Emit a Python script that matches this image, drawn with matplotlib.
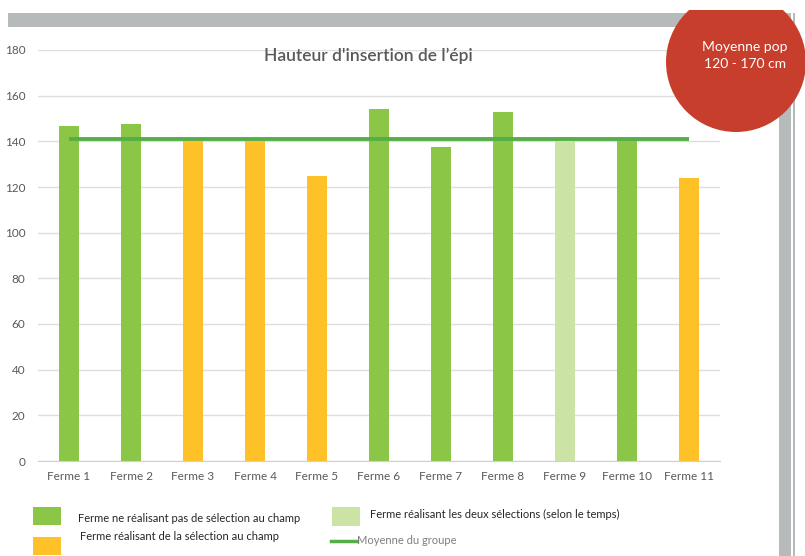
import matplotlib.pyplot as plt
from matplotlib.patches import Rectangle, Circle
from matplotlib.lines import Line2D

# Data
fermes = ['Ferme 1', 'Ferme 2', 'Ferme 3', 'Ferme 4', 'Ferme 5', 'Ferme 6',
          'Ferme 7', 'Ferme 8', 'Ferme 9', 'Ferme 10', 'Ferme 11']
hauteurs = [146.5, 147.5, 141, 141, 125, 154, 137.5, 153, 140, 141, 124]
# 0 = pas de sélection, 1 = sélection au champ, 2 = les deux
groupes = [0, 0, 1, 1, 1, 0, 0, 0, 2, 0, 1]
moyenne_groupe = 141
y_ticks = [0, 20, 40, 60, 80, 100, 120, 140, 160, 180]

couleurs = {0: '#8cc646', 1: '#fec128', 2: '#cbe3a4'}
legende = {0: 'Ferme ne réalisant pas de sélection au champ',
           1: 'Ferme réalisant de la sélection au champ',
           2: 'Ferme réalisant les deux sélections (selon le temps)'}
vert_ligne = '#55ae47'
gris_txt = '#595959'
gris_cadre = '#b7babb'

W, H = 805, 556
fig = plt.figure(figsize=(W / 100, H / 100), dpi=100)

# Main chart
ax = fig.add_axes([38 / W, 1 - 461 / H, (720 - 38) / W, (461 - 50) / H])
x = range(len(fermes))
ax.bar(x, hauteurs, width=0.32, color=[couleurs[g] for g in groupes], zorder=2)
ax.hlines(moyenne_groupe, 0, len(fermes) - 1, color=vert_ligne, lw=2.8, zorder=3)

ax.set_xlim(-0.5, len(fermes) - 0.5)
ax.set_ylim(0, 180)
ax.set_yticks(y_ticks)
ax.set_xticks(list(x))
ax.set_xticklabels(fermes)
ax.yaxis.grid(True, color='#dedede', lw=1)
ax.set_axisbelow(True)
for s in ['top', 'right', 'left']:
    ax.spines[s].set_visible(False)
ax.spines['bottom'].set_color('#d0d0d0')
ax.tick_params(length=0, labelsize=8.5, labelcolor=gris_txt)
ax.tick_params(axis='y', pad=9)
ax.tick_params(axis='x', pad=7)
for lab in ax.get_xticklabels() + ax.get_yticklabels():
    lab.set_family('Lato')

ax.text(0.485, 0.985, "Hauteur d'insertion de l’épi", transform=ax.transAxes,
        ha='center', va='center', fontsize=12.5, color=gris_txt,
        family='Lato', fontweight='semibold')

# Overlay in pixel coordinates for the frame, the circle and the legend
ov = fig.add_axes([0, 0, 1, 1], zorder=5)
ov.set_xlim(0, W)
ov.set_ylim(H, 0)
ov.axis('off')
ov.patch.set_alpha(0)

ov.add_patch(Rectangle((8, 13), 780, 14, color=gris_cadre, lw=0))
ov.add_patch(Rectangle((779, 13), 12, H, color=gris_cadre, lw=0))
ov.add_patch(Rectangle((793, 13), 2, H, color=gris_cadre, lw=0))

cercle = Circle((736, 62), 70, color='#c83e2d', lw=0)
ov.add_patch(cercle)
cercle.set_clip_path(Rectangle((0, 10), W, H, transform=ov.transData))
ov.text(745, 47, 'Moyenne pop', color='white', fontsize=10, ha='center',
        va='center', family='Lato')
ov.text(745, 64, '120 - 170 cm', color='white', fontsize=10, ha='center',
        va='center', family='Lato')

# Legend
ov.add_patch(Rectangle((33, 507), 28, 18, color=couleurs[0], lw=0))
ov.text(78, 518, legende[0], fontsize=8, va='center', color='#262626', family='Lato')
ov.add_patch(Rectangle((33, 537), 28, 18, color=couleurs[1], lw=0))
ov.text(80, 537, legende[1], fontsize=8, va='center', color='#262626', family='Lato')
ov.add_patch(Rectangle((332, 507), 28, 19, color=couleurs[2], lw=0))
ov.text(370, 514, legende[2], fontsize=8, va='center', color='#262626', family='Lato')
ov.add_line(Line2D([331, 357], [541, 541], color=vert_ligne, lw=2.5))
ov.text(357, 541, 'Moyenne du groupe', fontsize=8, va='center', color='#7f7f7f', family='Lato')

fig.savefig('out.png', dpi=100)
